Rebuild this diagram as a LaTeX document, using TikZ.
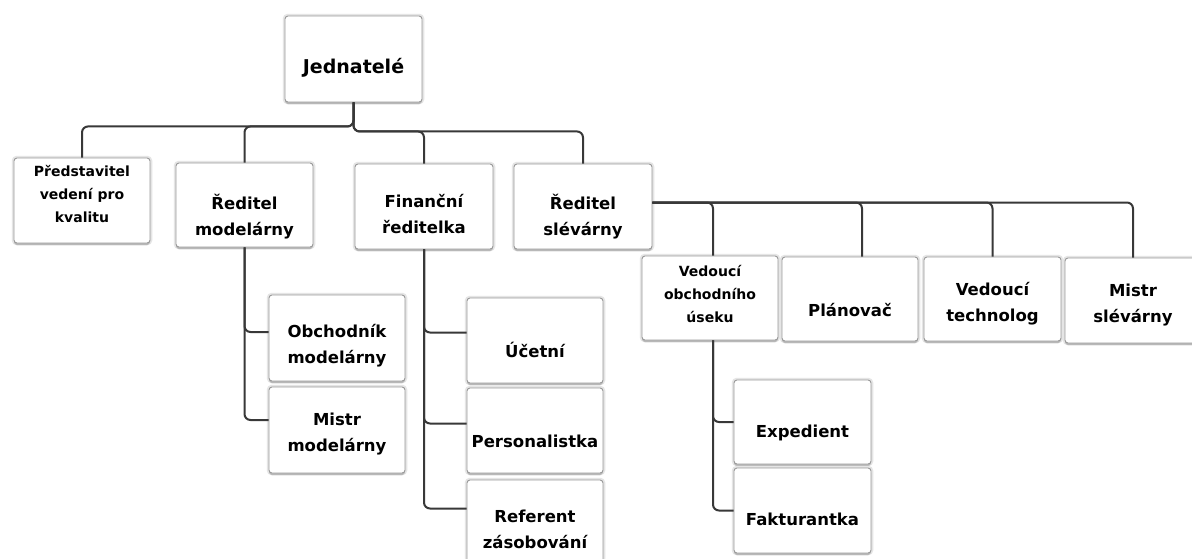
\documentclass[tikz,border=0pt]{standalone}
\usepackage{fontspec}
\setmainfont{DejaVu Sans}
\usetikzlibrary{shadows}

\tikzset{
  orgbox/.style={rectangle, rounded corners=3pt, fill=white, draw=black!40,
    line width=0.9pt, inner sep=0pt,
    preaction={draw=black!10, line width=4.5pt},
    general shadow={fill=black!28, shadow yshift=-2pt}},
  orgtext/.style={font=\bfseries\fontsize{16.5}{26}\selectfont, align=center,
    inner sep=0pt, execute at begin node=\strut, execute at end node=\strut},
  smalltext/.style={orgtext, font=\bfseries\fontsize{14}{23}\selectfont},
  toptext/.style={orgtext, font=\bfseries\fontsize{19}{28}\selectfont},
  wire/.style={draw=black!78, line width=2pt, rounded corners=6pt},
}

% \orgunit{name}{left}{top}{right}{bottom}
\newcommand\orgunit[5]{%
  \node[orgbox, minimum width={#4-#2}, minimum height={#5-#3}]
    (#1) at ({(#2+#4)/2},{(#3+#5)/2}) {};}

\begin{document}
\begin{tikzpicture}[x=1pt, y=-1pt]
  \fill[white] (0,0) rectangle (1192,558);
  \useasboundingbox (0,0) rectangle (1192,558);
  \clip (0,0) rectangle (1192,558);

  % boxes
  \orgunit{jed}{285}{16}{422}{102}
  \orgunit{pred}{14}{158}{150}{243}
  \orgunit{remod}{176}{163}{313}{247}
  \orgunit{fin}{355}{164}{493}{249}
  \orgunit{reslev}{514}{164}{652}{249}
  \orgunit{vob}{642}{256}{778}{340}
  \orgunit{plan}{782}{257}{918}{341}
  \orgunit{vtech}{924}{257}{1061}{341}
  \orgunit{mslev}{1065}{258}{1201}{343}
  \orgunit{obch}{269}{295}{405}{381}
  \orgunit{mmod}{269}{387}{405}{473}
  \orgunit{ucet}{467}{298}{603}{383}
  \orgunit{pers}{467}{388}{603}{473}
  \orgunit{ref}{467}{480}{603}{565}
  \orgunit{exp}{734}{380}{871}{464}
  \orgunit{fakt}{734}{468}{871}{553}

  % labels
  \node[toptext] (t-jed) at (jed.center |- 0,68) {Jednatelé};
  \node[smalltext] (t-pred) at (pred.center |- 0,197) {Představitel\\vedení pro\\kvalitu};
  \node[orgtext] (t-remod) at (remod.center |- 0,219) {Ředitel\\modelárny};
  \node[orgtext] (t-fin) at (fin.center |- 0,218) {Finanční\\ředitelka};
  \node[orgtext] (t-reslev) at (reslev.center |- 0,219) {Ředitel\\slévárny};
  \node[smalltext] (t-vob) at (vob.center |- 0,297) {Vedoucí\\obchodního\\úseku};
  \node[orgtext] (t-plan) at (plan.center |- 0,311) {Plánovač};
  \node[orgtext] (t-vtech) at (vtech.center |- 0,306) {Vedoucí\\technolog};
  \node[orgtext] (t-mslev) at (mslev.center |- 0,307) {Mistr\\slévárny};
  \node[orgtext] (t-obch) at (obch.center |- 0,348) {Obchodník\\modelárny};
  \node[orgtext] (t-mmod) at (mmod.center |- 0,436) {Mistr\\modelárny};
  \node[orgtext] (t-ucet) at (ucet.center |- 0,352) {Účetní};
  \node[orgtext] (t-pers) at (pers.center |- 0,442) {Personalistka};
  \node[orgtext] (t-ref) at (ref.center |- 0,533) {Referent\\zásobování};
  \node[orgtext] (t-exp) at (exp.center |- 0,432) {Expedient};
  \node[orgtext] (t-fakt) at (fakt.center |- 0,520) {Fakturantka};

  % connectors from the top
  \draw[wire] (jed.south) -- ++(0,24) -| (pred.north);
  \draw[wire] (jed.south) -- ++(0,24) -| (remod.north);
  \draw[wire] (jed.south) -- ++(0,29) -| (fin.north);
  \draw[wire] (jed.south) -- ++(0,29) -| (reslev.north);

  % foundry branch
  \coordinate (bus) at ([yshift=4pt]reslev.east);
  \draw[wire] (bus) -| ([xshift=3pt]vob.north);
  \draw[wire] (bus) -| ([xshift=12pt]plan.north);
  \draw[wire] (bus) -| (vtech.north);
  \draw[wire] (bus) -| (mslev.north);

  % pattern shop branch
  \draw[wire] (remod.south) |- ([yshift=6pt]obch.west);
  \draw[wire] (remod.south) |- ([yshift=10pt]mmod.west);

  % finance branch
  \draw[wire] (fin.south) |- ([yshift=8pt]ucet.west);
  \draw[wire] (fin.south) |- ([yshift=7pt]pers.west);
  \draw[wire] (fin.south) |- ([yshift=14pt]ref.west);

  % sales branch
  \draw[wire] ([xshift=3pt]vob.south) |- (exp.west);
  \draw[wire] ([xshift=3pt]vob.south) |- (fakt.west);
\end{tikzpicture}
\end{document}
